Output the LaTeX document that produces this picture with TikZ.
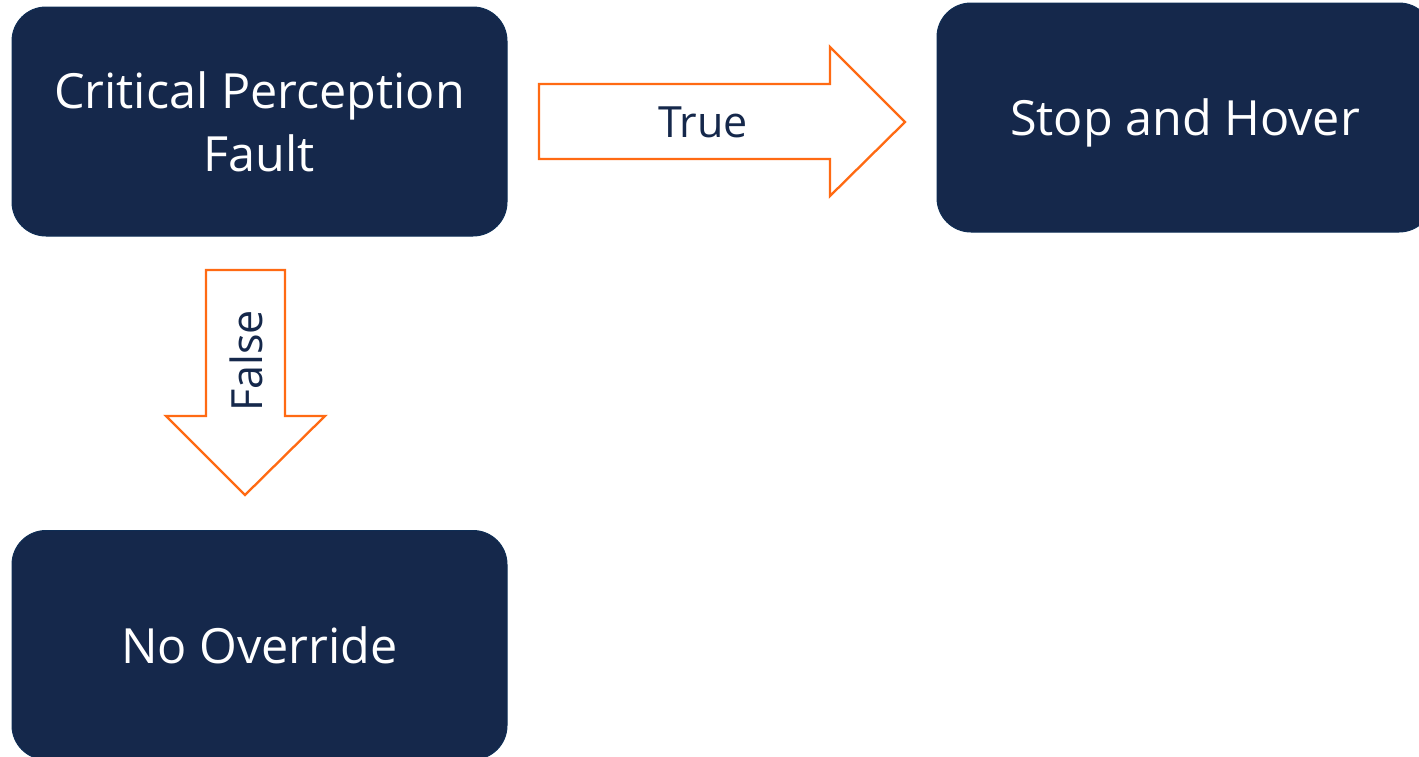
\documentclass[tikz,border=0pt]{standalone}
\usepackage{fontspec}
\setmainfont{Open Sans}
\definecolor{navy}{HTML}{15284B}
\definecolor{navyedge}{HTML}{0F2E55}
\definecolor{arroworange}{HTML}{FF6A13}
\begin{document}
\begin{tikzpicture}[x=1pt,y=-1pt,
  box/.style={draw=navyedge,line width=1pt,fill=navy,rounded corners=34pt,
    text=white,align=center,font=\fontsize{48.5}{63}\selectfont,inner sep=0pt},
  blockarrow/.style={draw=arroworange,line width=2.3pt,fill=white,line join=miter},
  arrowlabel/.style={text=navy,font=\fontsize{43}{50}\selectfont,inner sep=0pt}]
\useasboundingbox (0,0) rectangle (1419,756);
\begin{scope}
\clip (0,0) rectangle (1419,756);
\node[box,minimum width=495pt,minimum height=229pt] (fault) at (259.5,121.5) {Critical Perception\\Fault};
\node[box,minimum width=496pt,minimum height=229pt,text depth=0pt] (stop) at (1185,117.5) {Stop and Hover};
\node[box,minimum width=495pt,minimum height=229pt] (none) at (259.5,645) {No Override};
\end{scope}
% right block arrow
\draw[blockarrow] (539,84) -- (830,84) -- (830,47) -- (905,122) -- (830,196) -- (830,159) -- (539,159) -- cycle;
\node[arrowlabel] (true) at (703,122) {True};
% down block arrow
\draw[blockarrow] (206,270) -- (285,270) -- (285,416) -- (325,416) -- (245,495) -- (166,416) -- (206,416) -- cycle;
\node[arrowlabel,rotate=90] (false) at (246,361) {False};
\end{tikzpicture}
\end{document}
